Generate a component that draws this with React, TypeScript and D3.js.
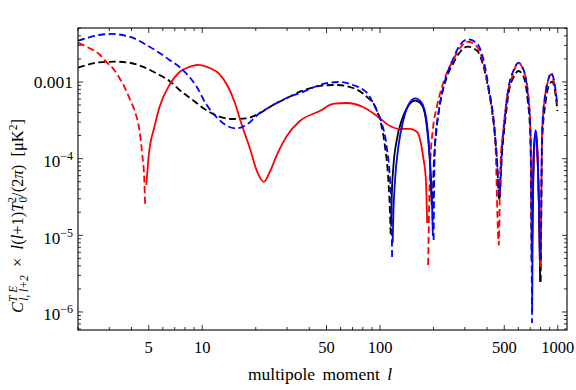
import React from 'react';
import * as d3 from 'd3';

type P = [number, number];

// multipole l, |C_l| value; A = first (dashed) run, B = solid, C = dashed, Bump = solid, D = dashed
const blackA: P[] = [
  [2, 1.537e-3], [2.31, 1.7e-3], [2.63, 1.806e-3], [3.27, 1.84e-3], [3.89, 1.785e-3], [4.62, 1.583e-3],
  [5.5, 1.3e-3], [6.54, 1.031e-3], [7.45, 7.87e-4], [8.85, 5.82e-4], [10.5, 4.31e-4], [12.5, 3.53e-4],
  [14.88, 3.29e-4], [17.7, 3.36e-4], [21.05, 3.91e-4], [25, 5.01e-4], [29.8, 6.13e-4], [35.4, 7.47e-4],
  [40.3, 8.28e-4], [47.7, 9.0e-4], [57, 9.14e-4], [70.4, 8.35e-4], [84.1, 6.43e-4], [95.8, 4.31e-4],
  [102.2, 2.61e-4], [106.7, 1.43e-4], [111.4, 5.27e-5], [113.8, 1.96e-5], [114.9, 9.25e-6],
];
const blackB: P[] = [
  [115.6, 1.3e-5], [116.4, 3.2e-5], [118.9, 7.86e-5], [124.2, 1.75e-4], [132.6, 3.2e-4], [141.5, 4.54e-4],
  [157.5, 5.71e-4], [171.9, 5.01e-4], [183.4, 2.61e-4], [191.4, 7.86e-5], [195.2, 2.49e-5],
];
const blackC: P[] = [
  [197.8, 1.59e-5], [199.8, 6.51e-5], [208.8, 2.59e-4], [218, 5.32e-4], [237.8, 1.16e-3], [259, 1.77e-3],
  [282, 2.46e-3], [312, 2.885e-3], [351, 2.56e-3], [382.4, 1.583e-3], [408, 7.87e-4], [435.5, 2.92e-4],
  [455, 9.6e-5], [469, 2.9e-5], [486, 1.19e-4], [507, 3.2e-4], [529, 7.19e-4], [565, 1.16e-3],
  [600, 1.39e-3], [643, 1.16e-3], [677, 5.82e-4], [701.5, 1.92e-4], [713, 4.8e-6],
];
const blackBump: P[] = [
  [713.5, 5e-6], [724, 2.49e-5], [734, 1.12e-4], [751, 2.04e-4], [768, 1.12e-4], [783, 2.49e-5], [796, 2.47e-6],
];
const blackD: P[] = [
  [801.5, 2.47e-6], [817, 1.75e-4], [853, 5.32e-4], [886, 8.61e-4], [930, 1.01e-3], [962, 7.87e-4], [996, 4.18e-4],
];

const redA: P[] = [
  [2, 3.23e-3], [2.31, 2.775e-3], [2.63, 2.317e-3], [2.89, 1.824e-3], [3.2, 1.433e-3], [3.42, 1.128e-3],
  [3.65, 8.61e-4], [3.89, 6.18e-4], [4.15, 4.31e-4], [4.43, 2.37e-4], [4.6, 1.12e-4], [4.72, 5.27e-5],
  [4.77, 2.49e-5],
];
const redB: P[] = [
  [4.85, 4.54e-5], [5.0, 1.1e-4], [5.38, 2.59e-4], [5.75, 4.72e-4], [6.54, 9.14e-4], [7.45, 1.35e-3],
  [8.48, 1.57e-3], [9.4, 1.67e-3], [11, 1.52e-3], [12.5, 1.27e-3], [13.9, 8.87e-4], [15.2, 5.48e-4],
  [16.7, 2.75e-4], [18.5, 1.38e-4], [20.5, 6.5e-5], [22.2, 4.97e-5], [24, 6.71e-5], [26.6, 1.19e-4],
  [29.9, 1.98e-4], [35.4, 3.1e-4], [45.8, 4.18e-4], [54.3, 5.17e-4], [65.1, 5.32e-4], [80.2, 4.72e-4],
  [96.1, 3.61e-4], [113.8, 2.67e-4], [129.6, 2.44e-4], [147.6, 2.44e-4], [161.8, 2.23e-4], [168.3, 1.75e-4],
  [174.9, 1.05e-4], [181.2, 5.27e-5], [184.2, 1.45e-5],
];
const redC: P[] = [
  [186.5, 4.11e-6], [191.4, 7.8e-5], [199, 2.59e-4], [208.8, 4.72e-4], [226.6, 9.7e-4], [258, 1.935e-3],
  [282, 2.775e-3], [312, 3.35e-3], [351, 2.885e-3], [381, 1.77e-3], [406, 8.6e-4], [426.6, 4.31e-4],
  [445, 1.75e-4], [466, 7.5e-6], [475, 7.8e-5], [494, 2.36e-4], [518, 6.37e-4], [553, 1.16e-3],
  [600, 1.77e-3], [640.5, 1.43e-3], [683, 6.78e-4], [701.5, 2.36e-4], [715, 4.8e-6],
];
const redBump: P[] = [
  [715.5, 5e-6], [724, 2.9e-5], [734, 1.3e-4], [751, 2.23e-4], [768, 1.22e-4], [783, 2.49e-5], [797, 3.87e-6],
];
const redD: P[] = [
  [803, 3.87e-6], [817, 2.36e-4], [853, 7.19e-4], [886, 1.06e-3], [918, 1.27e-3], [946, 1.06e-3], [992, 5.32e-4],
];

const blueA: P[] = [
  [2, 3.455e-3], [2.31, 3.83e-3], [2.63, 4.1e-3], [3.07, 4.23e-3], [3.89, 3.9e-3], [5.05, 2.885e-3],
  [5.75, 2.39e-3], [6.54, 1.94e-3], [7.45, 1.57e-3], [8.48, 1.16e-3], [9.25, 8.87e-4], [10.5, 5.17e-4],
  [12, 3.5e-4], [13.65, 2.71e-4], [15.55, 2.48e-4], [17.7, 2.75e-4], [21.05, 3.94e-4], [24, 4.72e-4],
  [29.8, 6.18e-4], [36.8, 7.41e-4], [47.7, 9.42e-4], [59.4, 1.0e-3], [70.4, 9.14e-4], [84.5, 7.19e-4],
  [93.7, 4.72e-4], [102.2, 2.92e-4], [109.1, 1.42e-4], [113.8, 5.27e-5], [116.4, 1.59e-5], [116.9, 5.07e-6],
];
const blueB: P[] = [
  [117.8, 8e-6], [118.9, 1.96e-5], [121.5, 5.27e-5], [126.8, 1.42e-4], [135.3, 3.2e-4], [144.4, 5.01e-4],
  [157.5, 6.13e-4], [171.9, 5.32e-4], [183.4, 2.92e-4], [191.4, 8.79e-5], [195.7, 3.17e-5], [198.3, 9.82e-6],
];
const blueC: P[] = [
  [200.3, 8.7e-6], [202, 6e-5], [204.3, 1.6e-4], [213.3, 3.94e-4], [227.5, 8.61e-4], [259, 2.055e-3],
  [282, 3.04e-3], [312, 3.6e-3], [351, 3.2e-3], [382.4, 1.94e-3], [408, 8.68e-4], [435.5, 3.2e-4],
  [455, 9.6e-5], [469, 3.36e-5], [486, 1.42e-4], [507, 3.94e-4], [529, 8.61e-4], [565, 1.43e-3],
  [600, 1.785e-3], [643, 1.43e-3], [677, 7.19e-4], [701.5, 2.36e-4], [717, 7.2e-7],
];
const blueBump: P[] = [
  [717.5, 1e-6], [724, 2.9e-5], [734, 1.3e-4], [751, 2.36e-4], [768, 1.3e-4], [783, 2.9e-5], [794, 4.8e-6],
];
const blueD: P[] = [
  [804, 4.8e-6], [817, 2.36e-4], [853, 7.19e-4], [886, 1.094e-3], [915, 1.31e-3], [946, 1.13e-3], [992, 5.32e-4],
];

const xLabels = [5, 10, 50, 100, 500, 1000];
const yLabels = [1e-6, 1e-5, 1e-4, 1e-3];

const series = [
  { color: '#000000', segs: [[blackA, true], [blackB, false], [blackC, true], [blackBump, false], [blackD, true]] },
  { color: '#ff0000', segs: [[redA, true], [redB, false], [redC, true], [redBump, false], [redD, true]] },
  { color: '#0000ff', segs: [[blueA, true], [blueB, false], [blueC, true], [blueBump, false], [blueD, true]] },
] as { color: string; segs: [P[], boolean][] }[];

const W = 576, H = 390;
const left = 78, right = 567, top = 28, bottom = 330;
const FONT = '"Liberation Serif", "DejaVu Serif", serif';

export default function App() {
  const x = d3.scaleLog().domain([2, 1127]).range([left, right]);
  const y = d3.scaleLog().domain([5.82e-7, 5.06e-3]).range([bottom, top]);

  const line = d3.line<P>()
    .x(d => x(d[0]))
    .y(d => y(d[1]))
    .curve(d3.curveMonotoneX);

  const xTicks = x.ticks().filter(t => t >= 2 && t <= 1127);
  const yTicks = y.ticks().filter(t => t >= 5.82e-7 && t <= 5.06e-3);
  const isMajorX = (t: number) => xLabels.some(v => Math.abs(v - t) / v < 1e-6);
  const isMajorY = (t: number) => yLabels.some(v => Math.abs(v - t) / v < 1e-6);

  return (
    <svg width={W} height={H} style={{ position: 'absolute', left: 0, top: 0, background: '#fff' }}
      fontFamily={FONT}>
      <defs>
        <clipPath id="plot">
          <rect x={left} y={top} width={right - left} height={bottom - top} />
        </clipPath>
      </defs>

      <g clipPath="url(#plot)">
        {series.map((s, i) => s.segs.map(([pts, dashed], j) => (
          <path key={`${i}-${j}`} d={line(pts) || ''} fill="none" stroke={s.color}
            strokeWidth={1.8} strokeDasharray={dashed ? '7,3.5' : undefined} />
        )))}
      </g>

      {/* frame */}
      <rect x={left} y={top} width={right - left} height={bottom - top} fill="none" stroke="#000" strokeWidth={1.1} />

      {/* x ticks, bottom and top */}
      {xTicks.map(t => {
        const len = isMajorX(t) ? 5 : 3;
        return (
          <g key={'xt' + t}>
            <line x1={x(t)} x2={x(t)} y1={bottom} y2={bottom - len} stroke="#000" strokeWidth={0.8} />
            <line x1={x(t)} x2={x(t)} y1={top} y2={top + len} stroke="#000" strokeWidth={0.8} />
          </g>
        );
      })}
      {/* y ticks, left and right */}
      {yTicks.map(t => {
        const len = isMajorY(t) ? 5 : 3;
        return (
          <g key={'yt' + t}>
            <line x1={left} x2={left + len} y1={y(t)} y2={y(t)} stroke="#000" strokeWidth={0.8} />
            <line x1={right} x2={right - len} y1={y(t)} y2={y(t)} stroke="#000" strokeWidth={0.8} />
          </g>
        );
      })}

      {xLabels.map(t => (
        <text key={'xl' + t} x={x(t)} y={353} textAnchor="middle" fontSize={16.5}>{t}</text>
      ))}

      {yLabels.map(t => {
        const e = Math.round(Math.log10(t));
        if (e === -3) {
          return <text key={'yl' + t} x={73} y={y(t) + 6} textAnchor="end" fontSize={17.5}>0.001</text>;
        }
        return (
          <text key={'yl' + t} x={73} y={y(t) + 8.5} textAnchor="end" fontSize={17}>
            10<tspan fontSize={12} dy={-7}>{'\u2212' + Math.abs(e)}</tspan>
          </text>
        );
      })}

      <text x={320} y={380} textAnchor="middle" fontSize={17.5} wordSpacing={3}>
        multipole moment <tspan fontStyle="italic">l</tspan>
      </text>

      <text transform="translate(23,216) rotate(-90)" textAnchor="middle" fontSize={16.5}>
        <tspan fontStyle="italic">C</tspan>
        <tspan fontStyle="italic" fontSize={11.5} dy={-6}>T E</tspan>
        <tspan fontStyle="italic" fontSize={11.5} dx={-15} dy={11}>l, l+2</tspan>
        <tspan dy={-5}>{'\u2002\u00d7\u2002'}</tspan>
        <tspan fontStyle="italic">l</tspan>
        <tspan>(</tspan>
        <tspan fontStyle="italic">l</tspan>
        <tspan>+1)</tspan>
        <tspan fontStyle="italic">T</tspan>
        <tspan fontSize={11.5} dy={4}>0</tspan>
        <tspan fontSize={11.5} dx={-6} dy={-11}>2</tspan>
        <tspan dy={7}>{'/(2'}</tspan>
        <tspan fontStyle="italic">{'\u03c0'}</tspan>
        <tspan>{')\u2002[\u03bcK'}</tspan>
        <tspan fontSize={11.5} dy={-6}>2</tspan>
        <tspan dy={6}>]</tspan>
      </text>
    </svg>
  );
}
